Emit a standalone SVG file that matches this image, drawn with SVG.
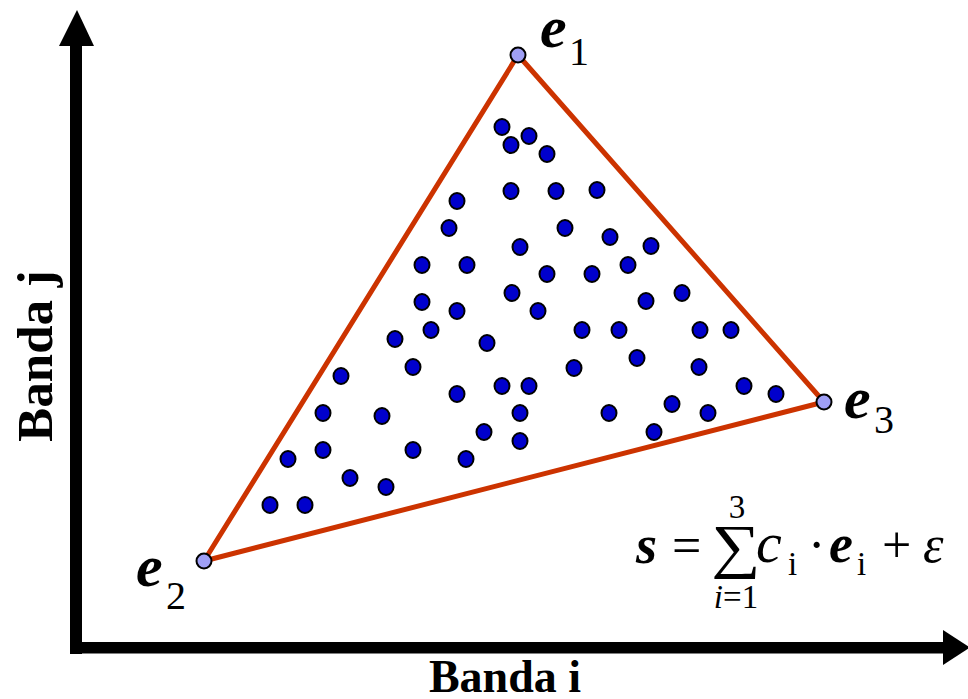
<svg xmlns="http://www.w3.org/2000/svg" width="968" height="699" viewBox="0 0 968 699">
<style>
.dot{fill:#0000cc;stroke:#000;stroke-width:2}
.vtx{fill:#9f9ff5;stroke:#000;stroke-width:2}
.edge{stroke:#cc3300;stroke-width:5;fill:none;stroke-linecap:round}
.ax{fill:#000}
.lbl{font-family:"Liberation Serif",serif;font-weight:bold;font-size:46px;fill:#000}
.ev{font-family:"Liberation Serif",serif;font-weight:bold;font-style:italic;font-size:60px;fill:#000}
.sub{font-family:"Liberation Serif",serif;font-size:40px;fill:#000}
.m{font-family:"Liberation Serif",serif;font-size:52px;fill:#000}
.ms{font-family:"Liberation Serif",serif;font-size:33px;fill:#000}
</style>
<rect width="968" height="699" fill="#fff"/>
<g id="axes">
<rect class="ax" x="70" y="44" width="12" height="610"/>
<polygon class="ax" points="59,46 77,10 94,46"/>
<rect class="ax" x="70" y="642" width="875" height="11.5"/>
<polygon class="ax" points="943,630 970,647.5 943,665"/>
</g>
<g id="label-banda-i"><text class="lbl" x="505" y="692" text-anchor="middle">Banda i</text></g>
<g id="label-banda-j"><text class="lbl" transform="translate(52,356) rotate(-90)" text-anchor="middle" style="font-size:51px">Banda j</text></g>
<g id="connectors">
<line class="edge" x1="518" y1="55" x2="204" y2="561"/>
<line class="edge" x1="518" y1="55" x2="824" y2="402"/>
<line class="edge" x1="204" y1="561" x2="824" y2="402"/>
</g>
<g id="points">
<ellipse class="dot" cx="502" cy="127" rx="7.5" ry="8"/>
<ellipse class="dot" cx="511" cy="145" rx="7.5" ry="8"/>
<ellipse class="dot" cx="529" cy="136" rx="7.5" ry="8"/>
<ellipse class="dot" cx="547" cy="154" rx="7.5" ry="8"/>
<ellipse class="dot" cx="511" cy="191" rx="7.5" ry="8"/>
<ellipse class="dot" cx="556" cy="191" rx="7.5" ry="8"/>
<ellipse class="dot" cx="597" cy="190" rx="7.5" ry="8"/>
<ellipse class="dot" cx="457" cy="201" rx="7.5" ry="8"/>
<ellipse class="dot" cx="449" cy="228" rx="7.5" ry="8"/>
<ellipse class="dot" cx="565" cy="228" rx="7.5" ry="8"/>
<ellipse class="dot" cx="610" cy="237" rx="7.5" ry="8"/>
<ellipse class="dot" cx="651" cy="246" rx="7.5" ry="8"/>
<ellipse class="dot" cx="520" cy="247" rx="7.5" ry="8"/>
<ellipse class="dot" cx="422" cy="265" rx="7.5" ry="8"/>
<ellipse class="dot" cx="467" cy="265" rx="7.5" ry="8"/>
<ellipse class="dot" cx="547" cy="274" rx="7.5" ry="8"/>
<ellipse class="dot" cx="592" cy="274" rx="7.5" ry="8"/>
<ellipse class="dot" cx="628" cy="265" rx="7.5" ry="8"/>
<ellipse class="dot" cx="512" cy="293" rx="7.5" ry="8"/>
<ellipse class="dot" cx="422" cy="302" rx="7.5" ry="8"/>
<ellipse class="dot" cx="457" cy="311" rx="7.5" ry="8"/>
<ellipse class="dot" cx="538" cy="311" rx="7.5" ry="8"/>
<ellipse class="dot" cx="646" cy="301" rx="7.5" ry="8"/>
<ellipse class="dot" cx="682" cy="293" rx="7.5" ry="8"/>
<ellipse class="dot" cx="431" cy="330" rx="7.5" ry="8"/>
<ellipse class="dot" cx="395" cy="339" rx="7.5" ry="8"/>
<ellipse class="dot" cx="582" cy="330" rx="7.5" ry="8"/>
<ellipse class="dot" cx="619" cy="330" rx="7.5" ry="8"/>
<ellipse class="dot" cx="700" cy="330" rx="7.5" ry="8"/>
<ellipse class="dot" cx="731" cy="330" rx="7.5" ry="8"/>
<ellipse class="dot" cx="487" cy="343" rx="7.5" ry="8"/>
<ellipse class="dot" cx="637" cy="358" rx="7.5" ry="8"/>
<ellipse class="dot" cx="413" cy="367" rx="7.5" ry="8"/>
<ellipse class="dot" cx="574" cy="368" rx="7.5" ry="8"/>
<ellipse class="dot" cx="699" cy="367" rx="7.5" ry="8"/>
<ellipse class="dot" cx="341" cy="376" rx="7.5" ry="8"/>
<ellipse class="dot" cx="457" cy="394" rx="7.5" ry="8"/>
<ellipse class="dot" cx="502" cy="386" rx="7.5" ry="8"/>
<ellipse class="dot" cx="529" cy="386" rx="7.5" ry="8"/>
<ellipse class="dot" cx="744" cy="386" rx="7.5" ry="8"/>
<ellipse class="dot" cx="776" cy="394" rx="7.5" ry="8"/>
<ellipse class="dot" cx="323" cy="413" rx="7.5" ry="8"/>
<ellipse class="dot" cx="382" cy="416" rx="7.5" ry="8"/>
<ellipse class="dot" cx="520" cy="413" rx="7.5" ry="8"/>
<ellipse class="dot" cx="609" cy="413" rx="7.5" ry="8"/>
<ellipse class="dot" cx="672" cy="404" rx="7.5" ry="8"/>
<ellipse class="dot" cx="708" cy="413" rx="7.5" ry="8"/>
<ellipse class="dot" cx="484" cy="432" rx="7.5" ry="8"/>
<ellipse class="dot" cx="520" cy="441" rx="7.5" ry="8"/>
<ellipse class="dot" cx="654" cy="432" rx="7.5" ry="8"/>
<ellipse class="dot" cx="288" cy="459" rx="7.5" ry="8"/>
<ellipse class="dot" cx="323" cy="450" rx="7.5" ry="8"/>
<ellipse class="dot" cx="413" cy="450" rx="7.5" ry="8"/>
<ellipse class="dot" cx="466" cy="459" rx="7.5" ry="8"/>
<ellipse class="dot" cx="350" cy="478" rx="7.5" ry="8"/>
<ellipse class="dot" cx="386" cy="487" rx="7.5" ry="8"/>
<ellipse class="dot" cx="270" cy="505" rx="7.5" ry="8"/>
<ellipse class="dot" cx="305" cy="505" rx="7.5" ry="8"/>
</g>
<g id="e1">
<circle class="vtx" cx="518" cy="55" r="7.5"/>
<text class="ev" x="540" y="47">e</text>
<text class="sub" x="569" y="65">1</text>
</g>
<g id="e2">
<circle class="vtx" cx="204" cy="561" r="7.5"/>
<text class="ev" x="136" y="586">e</text>
<text class="sub" x="166" y="609">2</text>
</g>
<g id="e3">
<circle class="vtx" cx="824" cy="402" r="7.5"/>
<text class="ev" x="844" y="418">e</text>
<text class="sub" x="874" y="433">3</text>
</g>
<g id="formula">
<text class="ev" x="636" y="563" style="font-size:54px">s</text>
<text class="m" x="672" y="563">=</text>
<text class="m" transform="translate(736,566) scale(1.15,1)" text-anchor="middle" style="font-size:60px">∑</text>
<text class="ms" x="737" y="518" text-anchor="middle">3</text>
<text class="m" x="756" y="562" font-style="italic" style="font-size:58px">c</text>
<text class="ms" x="788" y="575">i</text>
<text class="m" x="808" y="562">·</text>
<text class="ev" x="829" y="562" style="font-size:54px">e</text>
<text class="ms" x="857" y="575">i</text>
<text class="m" x="882" y="562">+</text>
<text class="m" x="923" y="562" font-style="italic">ε</text>
<text class="ms" x="736" y="608" text-anchor="middle"><tspan font-style="italic">i</tspan>=1</text>
</g>
</svg>
